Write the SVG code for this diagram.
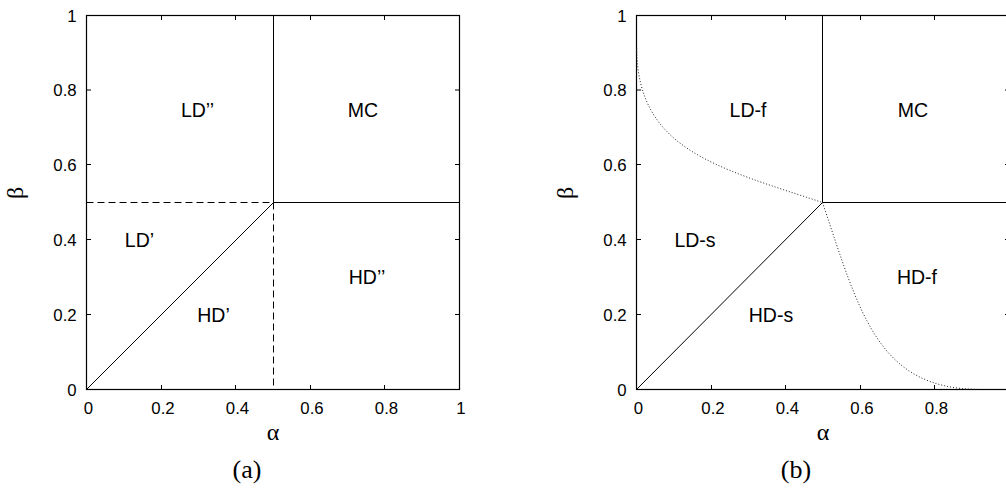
<svg xmlns="http://www.w3.org/2000/svg" width="1006" height="491" viewBox="0 0 1006 491">
<style>
.frame{fill:none;stroke:#000;stroke-width:1.2}
.tick{stroke:#000;stroke-width:1}
.solid{fill:none;stroke:#000;stroke-width:1}
.dash{fill:none;stroke:#000;stroke-width:1;stroke-dasharray:7,4}
.dot{fill:none;stroke:#222;stroke-width:1;stroke-dasharray:1,2}
.tl{font-family:"Liberation Sans",Arial,sans-serif;font-size:16.8px;fill:#000}
.tly{text-anchor:end}
.tlx{text-anchor:middle}
.rl{font-family:"Liberation Sans",Arial,sans-serif;font-size:19.5px;fill:#000;text-anchor:middle}
.greek{font-family:"Liberation Serif","Times New Roman",serif;font-size:24px;fill:#000;text-anchor:middle}
.cap{font-family:"Liberation Serif","Times New Roman",serif;font-size:26px;fill:#000;text-anchor:middle}
</style>
<defs>
<g id="axes">
<rect class="frame" x="86.5" y="15.5" width="373" height="374"/>
<path class="tick" d="M86.5,314.5h4.5M86.5,239.5h4.5M86.5,164.5h4.5M86.5,90h4.5M459.5,314.5h-4.5M459.5,239.5h-4.5M459.5,164.5h-4.5M459.5,90h-4.5M161.5,389.5v-4.5M235.5,389.5v-4.5M310.5,389.5v-4.5M384.5,389.5v-4.5M161.5,15.5v4.5M235.5,15.5v4.5M310.5,15.5v4.5M384.5,15.5v4.5"/>
<g class="tl tly">
<text x="76.7" y="395.5">0</text>
<text x="76.7" y="320.5">0.2</text>
<text x="76.7" y="245.5">0.4</text>
<text x="76.7" y="170.5">0.6</text>
<text x="76.7" y="96">0.8</text>
<text x="76.7" y="21.5">1</text>
</g>
<g class="tl tlx">
<text x="88.5" y="413.5">0</text>
<text x="163" y="413.5">0.2</text>
<text x="237.5" y="413.5">0.4</text>
<text x="312" y="413.5">0.6</text>
<text x="386.5" y="413.5">0.8</text>
</g>
<text class="greek" x="273" y="440">α</text>
<text class="greek" transform="translate(23,193) rotate(-90)">β</text>
</g>
</defs>

<g id="plot-a">
<use href="#axes"/>
<text class="tl tlx" x="461" y="413.5">1</text>
<text class="cap" x="247" y="478">(a)</text>
</g>

<g id="plot-b">
<use href="#axes" transform="translate(550,0)"/>
<text class="cap" x="796" y="478">(b)</text>
</g>

<g id="connectors">
<path class="solid" d="M273.5,15.5V202.5H459.5M86.5,389.5L273.5,202.5"/>
<path class="dash" d="M86.5,202.5H273.5V389.5"/>
<path class="solid" d="M822.5,15.5V202.5H1009.5M636.5,389.5L822.5,202.5"/>
<path class="dot" d="M636.7,48.3C637.5,148.3 712.5,166.2 822.5,202.5"/>
<path class="dot" d="M822.5,202.5C859.8,313.5 877.7,388.5 977.7,389.3"/>
</g>

<g id="node-LDpp"><text class="rl" x="197.5" y="116.5">LD’’</text></g>
<g id="node-MC-a"><text class="rl" x="363" y="116.5">MC</text></g>
<g id="node-LDp"><text class="rl" x="139.5" y="246.5">LD’</text></g>
<g id="node-HDpp"><text class="rl" x="367" y="284">HD’’</text></g>
<g id="node-HDp"><text class="rl" x="213.5" y="321.5">HD’</text></g>

<g id="node-LDf"><text class="rl" x="748" y="116.5">LD-f</text></g>
<g id="node-MC-b"><text class="rl" x="913" y="116.5">MC</text></g>
<g id="node-LDs"><text class="rl" x="695" y="247">LD-s</text></g>
<g id="node-HDf"><text class="rl" x="917" y="284">HD-f</text></g>
<g id="node-HDs"><text class="rl" x="771" y="322">HD-s</text></g>
</svg>
